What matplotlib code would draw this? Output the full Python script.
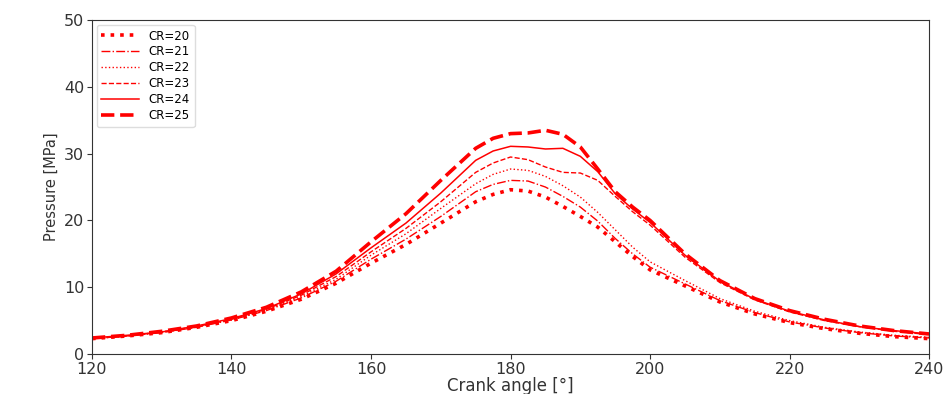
import matplotlib
matplotlib.use("Agg")
import matplotlib.pyplot as plt

# Crank angle [deg] and in-cylinder pressure [MPa]
angle = [120, 125, 130, 135, 140, 145, 150, 155, 160, 165, 170, 175, 177.5,
         180, 182.5, 185, 187.5, 190, 192.5, 195, 197.5, 200, 205, 210,
         215, 220, 225, 230, 235, 240]

p_cr20 = [2.3, 2.7, 3.2, 4.0, 5.0, 6.4, 8.2, 10.6, 13.6, 16.4, 19.6, 22.8, 23.9,
          24.6, 24.4, 23.5, 22.1, 20.6, 19.0, 16.8, 14.6, 12.6, 10.2, 7.8,
          6.0, 4.7, 3.8, 3.1, 2.6, 2.3]
p_cr21 = [2.3, 2.7, 3.2, 4.0, 5.1, 6.5, 8.4, 10.9, 14.2, 17.2, 20.6, 24.3, 25.4,
          26.0, 25.9, 25.0, 23.6, 22.0, 19.9, 17.3, 15.0, 13.0, 10.5, 8.0,
          6.2, 4.8, 3.9, 3.2, 2.7, 2.4]
p_cr22 = [2.3, 2.7, 3.3, 4.1, 5.1, 6.6, 8.6, 11.2, 14.8, 18.0, 21.8, 25.5, 26.9,
          27.7, 27.5, 26.6, 25.2, 23.5, 21.2, 18.6, 16.0, 13.8, 11.0, 8.3,
          6.4, 5.0, 4.0, 3.3, 2.8, 2.5]
p_cr23 = [2.3, 2.7, 3.3, 4.1, 5.2, 6.7, 8.8, 11.6, 15.3, 18.8, 22.8, 27.2, 28.6,
          29.5, 29.1, 28.0, 27.2, 27.1, 26.0, 23.6, 21.3, 19.3, 14.5, 10.7,
          8.1, 6.3, 5.0, 4.1, 3.4, 2.9]
p_cr24 = [2.4, 2.8, 3.3, 4.2, 5.3, 6.8, 9.0, 12.0, 15.9, 19.6, 24.1, 29.0, 30.4,
          31.1, 31.0, 30.7, 30.8, 29.6, 27.3, 24.0, 21.7, 19.7, 14.8, 10.9,
          8.2, 6.4, 5.1, 4.1, 3.5, 3.0]
p_cr25 = [2.4, 2.8, 3.4, 4.2, 5.4, 7.0, 9.3, 12.4, 16.8, 21.0, 26.0, 30.8, 32.3,
          33.0, 33.1, 33.5, 32.9, 31.0, 27.7, 24.3, 22.0, 20.0, 15.0, 11.0,
          8.3, 6.5, 5.2, 4.2, 3.5, 3.0]

labels = ["CR=20", "CR=21", "CR=22", "CR=23", "CR=24", "CR=25"]
series = [p_cr20, p_cr21, p_cr22, p_cr23, p_cr24, p_cr25]
styles = [(":", 2.6), ("-.", 1.0), (":", 1.0), ("--", 1.0), ("-", 1.1), ("--", 2.6)]

fig = plt.figure(figsize=(9.53, 3.94), dpi=100)
ax = fig.add_axes([0.0965, 0.1015, 0.8785, 0.8475])

for p, lab, (ls, lw) in zip(series, labels, styles):
    ax.plot(angle, p, color="red", linestyle=ls, linewidth=lw, label=lab)

ax.set_xlim(120, 240)
ax.set_ylim(0, 50)
ax.set_xticks(range(120, 241, 20))
ax.set_yticks(range(0, 51, 10))
ax.tick_params(labelsize=11.5, colors="#333333", pad=2)
for s in ax.spines.values():
    s.set_color("#333333")

ax.set_xlabel("Crank angle [°]", fontsize=12, color="#333333", labelpad=0)
ax.set_ylabel("Pressure [MPa]", fontsize=10.5, color="#333333")

ax.legend(loc="upper left", fontsize=8.5, handlelength=3.2, labelspacing=0.25,
          borderaxespad=0.4, framealpha=1, edgecolor="#dddddd")

fig.savefig("out.png", dpi=100)
